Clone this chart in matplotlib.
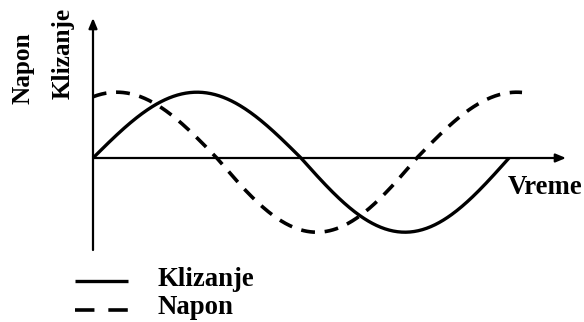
import numpy as np
import matplotlib
matplotlib.use('Agg')
import matplotlib.pyplot as plt

plt.rcParams['lines.scale_dashes'] = False

# Series (t in radians of the Klizanje wave, values relative to amplitude)
klizanje_period = 2 * np.pi
klizanje_amp = [0.94, 1.06]          # upper lobe, lower lobe
napon_peak_t = 0.36
napon_period = 6.04
napon_amp = [0.94, 1.06]
napon_end_t = 6.48

series_names = ['Klizanje', 'Napon']
axis_labels = ['Napon', 'Klizanje']
time_label = 'Vreme'

t1 = np.linspace(0, klizanje_period, 400)
s1 = np.sin(t1)
klizanje = np.where(s1 >= 0, klizanje_amp[0] * s1, klizanje_amp[1] * s1)

t2 = np.linspace(0, napon_end_t, 400)
c2 = np.cos(2 * np.pi * (t2 - napon_peak_t) / napon_period)
napon = np.where(c2 >= 0, napon_amp[0] * c2, napon_amp[1] * c2)

# pixel mapping of the drawing
W, H = 584, 322
ox, oy = 93, 158
sx = 416 / (2 * np.pi)
sy = 70

fig = plt.figure(figsize=(W / 100, H / 100), dpi=100)
ax = fig.add_axes([0, 0, 1, 1])
ax.set_xlim(-ox / sx, (W - ox) / sx)
ax.set_ylim(-(H - oy) / sy, oy / sy)
ax.axis('off')

# axes with arrows
arrow = dict(arrowstyle='-|>,head_length=0.6,head_width=0.25', lw=1.6, color='black',
             shrinkA=0, shrinkB=0)
ax.annotate('', xy=(0, (oy - 18) / sy), xytext=(0, -(250 - oy) / sy), arrowprops=arrow)
ax.annotate('', xy=((566 - ox) / sx, 0), xytext=(0, 0), arrowprops=arrow)

ax.plot(t1, klizanje, color='black', lw=2.4, solid_capstyle='butt')
ax.plot(t2, napon, color='black', lw=2.6, dashes=(10, 7), dash_capstyle='butt')

font_v = dict(family='Liberation Serif', weight='bold', size=18.2)
font_h = dict(family='Liberation Serif', weight='bold', size=19.3)

def px(x, y):
    return x / W, 1 - y / H

fig.text(*px(23, 68), axis_labels[0], rotation=90, ha='center', va='center', **font_v)
fig.text(*px(63, 53), axis_labels[1], rotation=90, ha='center', va='center', **font_v)
fig.text(*px(508, 187), time_label, ha='left', va='center', **font_h)

# legend drawn by hand, as in the sketch
lx = [(75 - ox) / sx, (128 - ox) / sx]
ax.plot(lx, [-(281 - oy) / sy] * 2, color='black', lw=2.4, solid_capstyle='butt')
ax.plot(lx, [-(310 - oy) / sy] * 2, color='black', lw=2.6, dashes=(14, 10), dash_capstyle='butt')
fig.text(*px(157, 279), series_names[0], ha='left', va='center', **font_h)
fig.text(*px(157, 307), series_names[1], ha='left', va='center', **font_h)

fig.savefig('out.png', dpi=100)
